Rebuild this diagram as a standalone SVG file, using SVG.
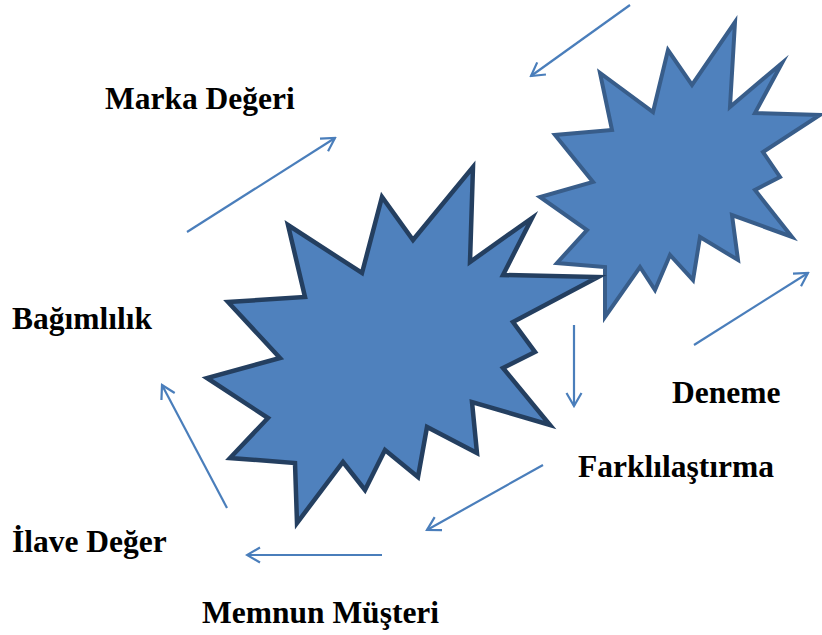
<svg xmlns="http://www.w3.org/2000/svg" width="822" height="635" viewBox="0 0 822 635">
<style>
.lbl{font-family:"Liberation Serif","Times New Roman",serif;font-weight:bold;font-size:31.5px;fill:#000}
.arr{stroke:#4a7ebb;stroke-width:2.2;fill:none;marker-end:url(#ah)}
.star{fill:#4f81bd;stroke-linejoin:miter;stroke-miterlimit:20}
</style>
<defs>
<marker id="ah" viewBox="0 0 20 20" refX="18" refY="10" markerWidth="20" markerHeight="20" markerUnits="userSpaceOnUse" orient="auto">
<path d="M5,2.5 L18,10 L5,17.5" fill="none" stroke="#4a7ebb" stroke-width="2.2"/>
</marker>
</defs>
<rect width="822" height="635" fill="#fff"/>
<g id="star-small">
<polygon class="star" stroke="#385d8a" stroke-width="4" points="735,22 730,107 782,63 755,113 820,115 763,152 780,177 755,190 792,237 732,215 738,260 700,237 693,280 670,255 655,290 640,267 605,317 605,267 557,263 587,230 540,197 593,182 555,135 612,130 600,73 653,112 668,50 692,85"/>
</g>
<g id="star-big">
<polygon class="star" stroke="#243f60" stroke-width="4.5" points="473,167 470,262 532,218 503,275 598,277 513,322 535,352 503,368 550,425 472,402 477,453 427,427 418,477 385,450 365,490 343,462 297,523 295,463 230,458 268,418 207,378 280,358 228,302 305,297 288,225 362,273 382,197 413,240"/>
</g>
<g id="connectors">
<line class="arr" x1="630" y1="5" x2="531" y2="76"/>
<line class="arr" x1="187" y1="232" x2="335" y2="138"/>
<line class="arr" x1="694" y1="345" x2="808" y2="273"/>
<line class="arr" x1="574" y1="325" x2="574" y2="406"/>
<line class="arr" x1="543" y1="465" x2="427" y2="530"/>
<line class="arr" x1="382" y1="555" x2="247" y2="555"/>
<line class="arr" x1="227" y1="508" x2="162" y2="385"/>
</g>
<g id="label-marka"><text class="lbl" x="105" y="109">Marka Değeri</text></g>
<g id="label-bagimlilik"><text class="lbl" x="12" y="329">Bağımlılık</text></g>
<g id="label-deneme"><text class="lbl" x="672" y="403">Deneme</text></g>
<g id="label-farklilastirma"><text class="lbl" x="578" y="477">Farklılaştırma</text></g>
<g id="label-ilave"><text class="lbl" x="12" y="552">İlave Değer</text></g>
<g id="label-memnun"><text class="lbl" x="202" y="623">Memnun Müşteri</text></g>
</svg>
